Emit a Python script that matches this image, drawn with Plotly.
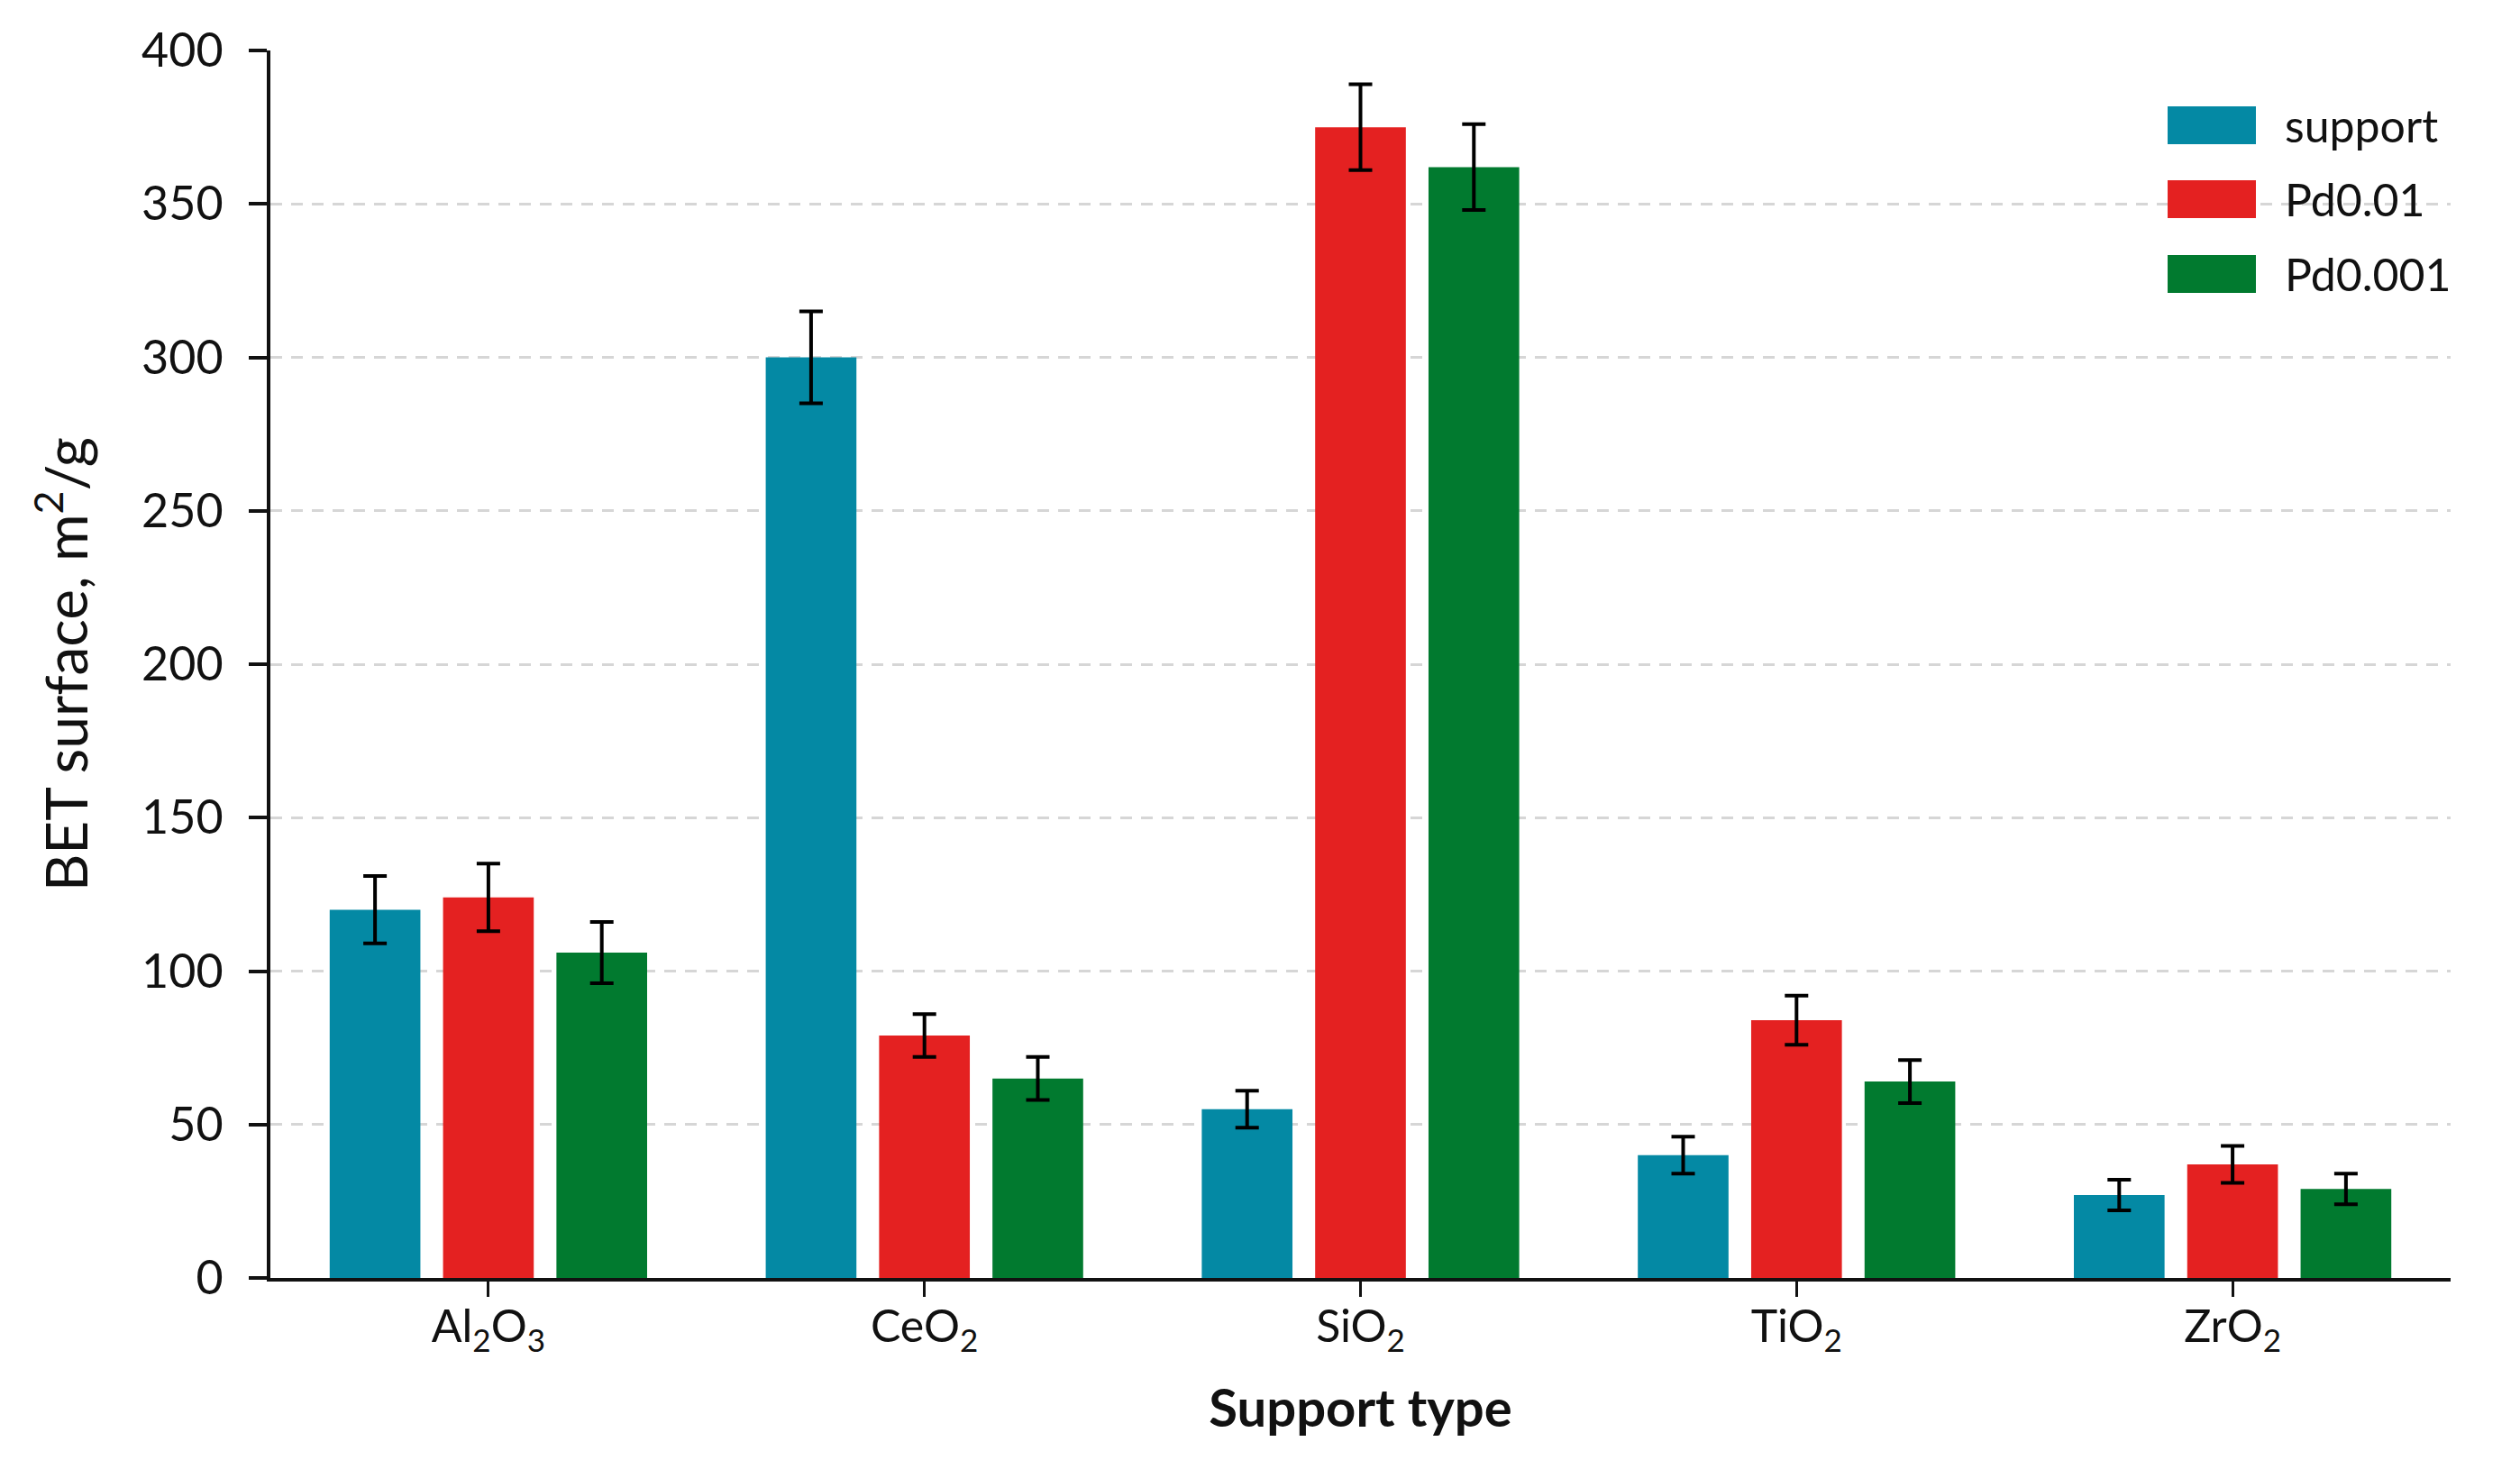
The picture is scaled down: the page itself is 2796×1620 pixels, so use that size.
import plotly.graph_objects as go

categories = ["Al2O3", "CeO2", "SiO2", "TiO2", "ZrO2"]
tick_labels = ["Al<sub>2</sub>O<sub>3</sub>", "CeO<sub>2</sub>", "SiO<sub>2</sub>",
               "TiO<sub>2</sub>", "ZrO<sub>2</sub>"]

series_names = ["support", "Pd0.01", "Pd0.001"]
support = [120, 300, 55, 40, 27]
support_err = [11, 15, 6, 6, 5]
pd001 = [124, 79, 375, 84, 37]
pd001_err = [11, 7, 14, 8, 6]
pd0001 = [106, 65, 362, 64, 29]
pd0001_err = [10, 7, 14, 7, 5]

y_ticks = [0, 50, 100, 150, 200, 250, 300, 350, 400]

colors = ["#0489A4", "#E42121", "#017A2F"]
FONT = "Lato"

fig = go.Figure()
for name, vals, errs, col in zip(series_names, [support, pd001, pd0001],
                                 [support_err, pd001_err, pd0001_err], colors):
    fig.add_trace(go.Bar(
        x=categories, y=vals, name=name,
        marker=dict(color=col, line=dict(width=0)),
        error_y=dict(type="data", array=errs, visible=True, color="black",
                     thickness=4, width=13),
        showlegend=False,
    ))

fig.update_layout(
    width=2796, height=1620,
    margin=dict(l=300, r=77, t=56, b=202, pad=0),
    paper_bgcolor="white", plot_bgcolor="white",
    barmode="group", bargap=0.22, bargroupgap=0.2,
    font=dict(family=FONT, size=50, color="#111111"),
)

fig.update_xaxes(
    type="category", range=[-0.5, 4.5],
    tickmode="array", tickvals=categories, ticktext=tick_labels,
    showline=True, linecolor="#111111", linewidth=4,
    ticks="outside", ticklen=17, tickwidth=3, tickcolor="#111111",
    ticklabelstandoff=-10,
    showgrid=False, zeroline=False,
    tickfont=dict(family=FONT, size=50, color="#111111"),
    title=dict(text="<b>Support type</b>", font=dict(family=FONT, size=58, color="#111111"),
               standoff=38),
)

fig.update_yaxes(
    range=[0, 400], tickmode="array", tickvals=y_ticks,
    showline=True, linecolor="#111111", linewidth=4,
    ticks="outside", ticklen=20, tickwidth=4, tickcolor="#111111",
    ticklabelstandoff=18,
    showgrid=True, gridcolor="#D6D6D6", gridwidth=3, griddash="13px,10px",
    zeroline=False,
    tickfont=dict(family=FONT, size=52, color="#111111"),
    title=dict(text="BET surface, m<sup>2</sup>/g",
               font=dict(family=FONT, size=64, color="#111111"), standoff=40),
)

# custom legend with large swatches (paper coordinates)
leg_x0, leg_x1, text_x = 0.8702, 0.9107, 0.9231
leg_rows = [(0.9236, 0.9545), (0.8634, 0.8943), (0.8025, 0.8333)]
for name, col, (y0, y1) in zip(series_names, colors, leg_rows):
    fig.add_shape(type="rect", xref="paper", yref="paper",
                  x0=leg_x0, x1=leg_x1, y0=y0, y1=y1,
                  fillcolor=col, line=dict(width=0))
    fig.add_annotation(xref="paper", yref="paper", x=text_x, y=(y0 + y1) / 2,
                       text=name, showarrow=False, xanchor="left", yanchor="middle",
                       font=dict(family=FONT, size=50, color="#111111"))

fig.write_html("out.html")
